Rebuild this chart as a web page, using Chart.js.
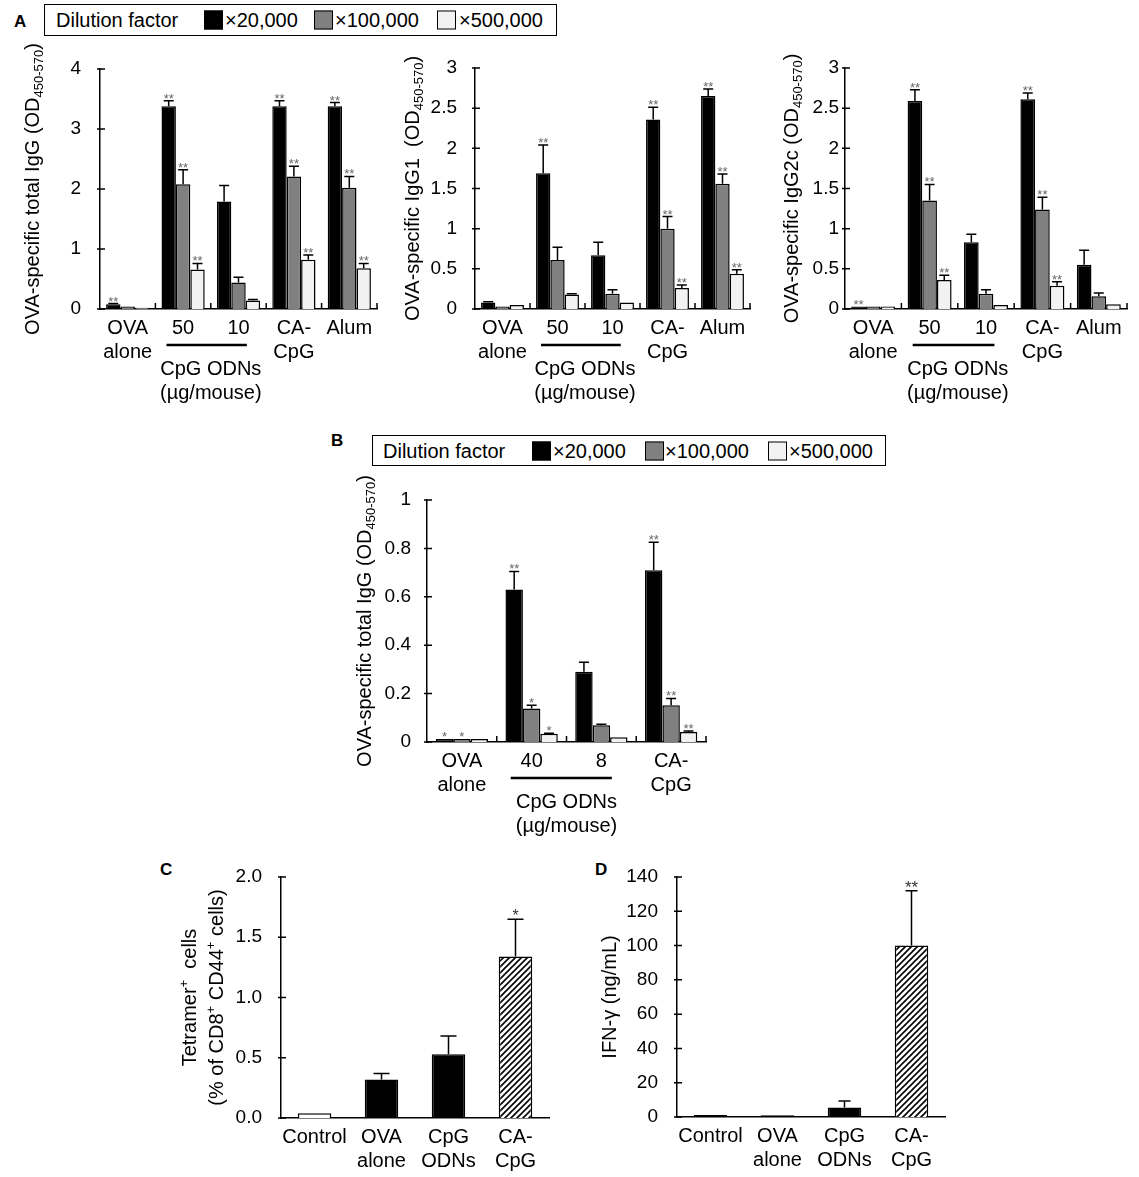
<!DOCTYPE html>
<html>
<head>
<meta charset="utf-8">
<script src="https://cdn.jsdelivr.net/npm/chart.js@4.4.0/dist/chart.umd.min.js"></script>
<style>
  body { margin: 0; background: #fff; width: 1139px; height: 1177px; position: relative; overflow: hidden;
         font-family: "Liberation Sans", Arial, sans-serif; color: #000; }
  canvas { position: absolute; }
  .lab { position: absolute; font-weight: bold; font-size: 17px; line-height: 17px; }
  .legend { position: absolute; border: 1.5px solid #000; box-sizing: border-box; background: #fff; }
  .legend span { position: absolute; top: 50%; transform: translateY(-50%); font-size: 20px; white-space: nowrap; }
  .legend i { position: absolute; top: 50%; transform: translateY(-50%); width: 19px; height: 19px;
              border: 1.5px solid #000; box-sizing: border-box; }
</style>
</head>
<body>
<div class="lab" style="left:14px;top:13px">A</div>
<div class="lab" style="left:331px;top:432px">B</div>
<div class="lab" style="left:160px;top:861px">C</div>
<div class="lab" style="left:595px;top:861px">D</div>
<script>
// ---- data ----
const seriesLabels = ['×20,000', '×100,000', '×500,000'];
const legendTitle = 'Dilution factor';
const groupLabel = ['CpG ODNs', '(µg/mouse)'];

const catsA = [['OVA', 'alone'], '50', '10', ['CA-', 'CpG'], 'Alum'];
const catsB = [['OVA', 'alone'], '40', '8', ['CA-', 'CpG']];
const catsCD = ['Control', ['OVA', 'alone'], ['CpG', 'ODNs'], ['CA-', 'CpG']];

// A, total IgG
const totalIgG20k = [0.08, 3.38, 1.79, 3.38, 3.38];
const totalIgG100k = [0.04, 2.08, 0.44, 2.21, 2.02];
const totalIgG500k = [0.02, 0.66, 0.14, 0.82, 0.68];
const totalIgG20kSd = [0.01, 0.09, 0.27, 0.09, 0.06];
const totalIgG100kSd = [0, 0.24, 0.09, 0.17, 0.19];
const totalIgG500kSd = [0, 0.10, 0.02, 0.08, 0.08];
const totalIgG20kSig = ['**', '**', '', '**', '**'];
const totalIgG100kSig = ['', '**', '', '**', '**'];
const totalIgG500kSig = ['', '**', '', '**', '**'];

// A, IgG1
const igg1_20k = [0.08, 1.69, 0.67, 2.36, 2.65];
const igg1_100k = [0.03, 0.61, 0.19, 1.00, 1.56];
const igg1_500k = [0.05, 0.18, 0.08, 0.26, 0.44];
const igg1_20kSd = [0.01, 0.35, 0.16, 0.15, 0.09];
const igg1_100kSd = [0, 0.16, 0.05, 0.15, 0.12];
const igg1_500kSd = [0, 0.01, 0, 0.04, 0.05];
const igg1_20kSig = ['', '**', '', '**', '**'];
const igg1_100kSig = ['', '', '', '**', '**'];
const igg1_500kSig = ['', '', '', '**', '**'];

// A, IgG2c
const igg2c_20k = [0.03, 2.59, 0.83, 2.61, 0.55];
const igg2c_100k = [0.03, 1.35, 0.19, 1.24, 0.16];
const igg2c_500k = [0.03, 0.36, 0.05, 0.29, 0.06];
const igg2c_20kSd = [0, 0.14, 0.10, 0.08, 0.18];
const igg2c_100kSd = [0, 0.20, 0.05, 0.15, 0.04];
const igg2c_500kSd = [0, 0.06, 0, 0.05, 0];
const igg2c_20kSig = ['**', '**', '', '**', ''];
const igg2c_100kSig = ['', '**', '', '**', ''];
const igg2c_500kSig = ['', '**', '', '**', ''];

// B, total IgG
const bIgG20k = [0.012, 0.63, 0.29, 0.71];
const bIgG100k = [0.012, 0.138, 0.069, 0.152];
const bIgG500k = [0.012, 0.034, 0.02, 0.041];
const bIgG20kSd = [0, 0.075, 0.04, 0.115];
const bIgG100kSd = [0, 0.014, 0.004, 0.028];
const bIgG500kSd = [0, 0.002, 0, 0.004];
const bIgG20kSig = ['*', '**', '', '**'];
const bIgG100kSig = ['*', '*', '', '**'];
const bIgG500kSig = ['', '*', '', '**'];

// C, tetramer+ cells
const tetramer = [0.04, 0.32, 0.53, 1.34];
const tetramerSd = [0, 0.05, 0.15, 0.31];
const tetramerSig = ['', '', '', '*'];

// D, IFN-gamma
const ifng = [1.2, 1.0, 5.6, 100];
const ifngSd = [0, 0, 3.7, 32];
const ifngSig = ['', '', '', '**'];

// ---- styling ----
const FONT = '"Liberation Sans", Arial, sans-serif';
const fills = ['#000000', '#808080', '#f2f2f2'];
Chart.defaults.font.family = FONT;
Chart.defaults.color = '#000';

function hatch() {
  const c = document.createElement('canvas');
  c.width = 6; c.height = 6;
  const g = c.getContext('2d');
  g.fillStyle = '#fff'; g.fillRect(0, 0, 6, 6);
  g.strokeStyle = '#000'; g.lineWidth = 1.6;
  g.beginPath();
  g.moveTo(-1, 7); g.lineTo(7, -1);
  g.moveTo(-4, 4); g.lineTo(4, -4);
  g.moveTo(2, 10); g.lineTo(10, 2);
  g.stroke();
  return g.createPattern(c, 'repeat');
}

function trio(vals, sds, sigs, cat) {
  return vals.map((v, i) => ({
    label: seriesLabels[i], data: v, sd: sds[i], sig: sigs[i],
    backgroundColor: fills[i], borderColor: '#000', borderWidth: 1.5,
    categoryPercentage: cat, barPercentage: 1
  }));
}

function drawRich(ctx, segs, cx, cy, size) {
  ctx.save();
  ctx.translate(cx, cy);
  ctx.rotate(-Math.PI / 2);
  ctx.textBaseline = 'middle';
  ctx.textAlign = 'left';
  const sz = s => (s.k ? size * 0.65 : size);
  let total = 0;
  segs.forEach(s => { ctx.font = sz(s) + 'px ' + FONT; total += ctx.measureText(s.t).width; });
  let x = -total / 2;
  segs.forEach(s => {
    ctx.font = sz(s) + 'px ' + FONT;
    const dy = s.k === 'sub' ? size * 0.3 : s.k === 'sup' ? -size * 0.3 : 0;
    ctx.fillText(s.t, x, dy);
    x += ctx.measureText(s.t).width;
  });
  ctx.restore();
}

function extras(p, canvasLeft) {
  return {
    id: 'extras',
    afterDatasetsDraw(chart) {
      const ctx = chart.ctx, xs = chart.scales.x, ys = chart.scales.y;
      ctx.save();
      ctx.strokeStyle = '#000';
      ctx.lineWidth = 1.5;
      chart.data.datasets.forEach((ds, di) => {
        chart.getDatasetMeta(di).data.forEach((bar, i) => {
          const top = ys.getPixelForValue(ds.data[i] + (ds.sd[i] || 0));
          if (ds.sd[i]) {
            ctx.beginPath();
            ctx.moveTo(bar.x, bar.y); ctx.lineTo(bar.x, top);
            ctx.moveTo(bar.x - p.cap / 2, top); ctx.lineTo(bar.x + p.cap / 2, top);
            ctx.stroke();
          }
          if (ds.sig[i]) {
            ctx.fillStyle = p.sigColor;
            ctx.font = p.sigSize + 'px ' + FONT;
            ctx.textAlign = 'center';
            ctx.textBaseline = 'alphabetic';
            ctx.fillText(ds.sig[i], bar.x, top + 2);
          }
        });
      });
      // inward ticks
      ctx.beginPath();
      ys.ticks.forEach(t => {
        const py = ys.getPixelForValue(t.value);
        ctx.moveTo(xs.left - 3, py); ctx.lineTo(xs.left + 5, py);
      });
      if (p.xTick) {
        const n = chart.data.labels.length, cw = (xs.right - xs.left) / n;
        for (let k = 1; k <= n; k++) {
          const px = xs.left + k * cw;
          ctx.moveTo(px, ys.bottom); ctx.lineTo(px, ys.bottom - 6);
        }
      }
      ctx.stroke();
      // CpG ODNs bracket
      if (p.bracket) {
        const n = chart.data.labels.length, cw = (xs.right - xs.left) / n;
        const xa = xs.getPixelForValue(p.bracket[0]), xb = xs.getPixelForValue(p.bracket[1]);
        ctx.lineWidth = 2.5;
        ctx.beginPath();
        ctx.moveTo(xa - 0.3 * cw, ys.bottom + 36); ctx.lineTo(xb + 0.15 * cw, ys.bottom + 36);
        ctx.stroke();
        ctx.fillStyle = '#000';
        ctx.font = '20px ' + FONT;
        ctx.textAlign = 'center';
        ctx.textBaseline = 'middle';
        ctx.fillText(groupLabel[0], (xa + xb) / 2, ys.bottom + 60);
        ctx.fillText(groupLabel[1], (xa + xb) / 2, ys.bottom + 84);
      }
      // axis titles
      ctx.fillStyle = '#000';
      p.titles.forEach(t => drawRich(ctx, t.segs, t.x - canvasLeft, (ys.top + ys.bottom) / 2, 20));
      ctx.restore();
    }
  };
}

function panel(p) {
  const padTop = 40, padRight = 12;
  const cv = document.createElement('canvas');
  const canvasLeft = p.left - p.yW;
  cv.width = p.yW + (p.right - p.left) + padRight;
  cv.height = padTop + (p.bottom - p.top) + p.xH;
  cv.style.left = canvasLeft + 'px';
  cv.style.top = (p.top - padTop) + 'px';
  document.body.appendChild(cv);
  new Chart(cv, {
    type: 'bar',
    data: { labels: p.labels, datasets: p.datasets },
    options: {
      responsive: false,
      animation: false,
      layout: { padding: { top: padTop, right: padRight, left: 0, bottom: 0 } },
      plugins: { legend: { display: false }, tooltip: { enabled: false } },
      scales: {
        x: {
          grid: { display: false, drawTicks: false },
          border: { color: '#000', width: 1.5 },
          ticks: { padding: 7, font: { size: 20 }, maxRotation: 0, autoSkip: false, color: '#000' },
          afterFit: s => { s.height = p.xH; }
        },
        y: {
          min: 0, max: p.max,
          grid: { display: false, drawTicks: false },
          border: { color: '#000', width: 1.5 },
          ticks: { stepSize: p.step, padding: p.tickPad, font: { size: 19 }, color: '#000', callback: p.fmt },
          afterFit: s => { s.width = p.yW; }
        }
      }
    },
    plugins: [extras(p, canvasLeft)]
  });
}

function odTitle(name) {
  return [{ t: name + ' (OD' }, { t: '450-570', k: 'sub' }, { t: ')' }];
}

function legend(left, top, width, height, titleX, sqX, txX) {
  const box = document.createElement('div');
  box.className = 'legend';
  Object.assign(box.style, { left: left + 'px', top: top + 'px', width: width + 'px', height: height + 'px' });
  const t = document.createElement('span');
  t.textContent = legendTitle; t.style.left = titleX + 'px';
  box.appendChild(t);
  seriesLabels.forEach((lab, i) => {
    const sq = document.createElement('i');
    sq.style.left = sqX[i] + 'px'; sq.style.background = fills[i];
    box.appendChild(sq);
    const s = document.createElement('span');
    s.textContent = lab; s.style.left = txX[i] + 'px';
    box.appendChild(s);
  });
  document.body.appendChild(box);
}

legend(44, 4, 513, 32, 11, [159, 269, 392], [180, 290, 414]);
legend(372, 435, 514, 31, 10, [159, 272, 395], [180, 292, 416]);

const sigA = { cap: 10, sigColor: '#666', sigSize: 13, xTick: true, bracket: [1, 2] };

panel(Object.assign({}, sigA, {
  left: 100, top: 69, bottom: 309, right: 377, yW: 100, xH: 100, max: 4, step: 1, tickPad: 19,
  labels: catsA,
  datasets: trio([totalIgG20k, totalIgG100k, totalIgG500k], [totalIgG20kSd, totalIgG100kSd, totalIgG500kSd],
                 [totalIgG20kSig, totalIgG100kSig, totalIgG500kSig], 0.78),
  titles: [{ segs: odTitle('OVA-specific total IgG'), x: 33 }]
}));

panel(Object.assign({}, sigA, {
  left: 475, top: 68, bottom: 309, right: 750, yW: 95, xH: 100, max: 3, step: 0.5, tickPad: 18,
  labels: catsA,
  datasets: trio([igg1_20k, igg1_100k, igg1_500k], [igg1_20kSd, igg1_100kSd, igg1_500kSd],
                 [igg1_20kSig, igg1_100kSig, igg1_500kSig], 0.78),
  titles: [{ segs: odTitle('OVA-specific IgG1 '), x: 413 }]
}));

panel(Object.assign({}, sigA, {
  left: 845, top: 68, bottom: 309, right: 1127, yW: 95, xH: 100, max: 3, step: 0.5, tickPad: 6,
  labels: catsA,
  datasets: trio([igg2c_20k, igg2c_100k, igg2c_500k], [igg2c_20kSd, igg2c_100kSd, igg2c_500kSd],
                 [igg2c_20kSig, igg2c_100kSig, igg2c_500kSig], 0.78),
  titles: [{ segs: odTitle('OVA-specific IgG2c'), x: 792 }]
}));

panel(Object.assign({}, sigA, {
  left: 427, top: 500, bottom: 742, right: 706, yW: 90, xH: 100, max: 1, step: 0.2, tickPad: 16,
  labels: catsB,
  datasets: trio([bIgG20k, bIgG100k, bIgG500k], [bIgG20kSd, bIgG100kSd, bIgG500kSd],
                 [bIgG20kSig, bIgG100kSig, bIgG500kSig], 0.75),
  titles: [{ segs: odTitle('OVA-specific total IgG'), x: 365 }]
}));

const pattern = hatch();
function single(vals, sd, sig, colors) {
  return [{ data: vals, sd: sd, sig: sig, backgroundColor: colors, borderColor: '#000', borderWidth: 1.5,
            categoryPercentage: 0.5, barPercentage: 1 }];
}

panel({
  left: 281, top: 877, bottom: 1118, right: 549, yW: 125, xH: 65, max: 2, step: 0.5, tickPad: 19,
  fmt: v => v.toFixed(1), cap: 16, sigColor: '#333', sigSize: 16, xTick: false,
  labels: catsCD,
  datasets: single(tetramer, tetramerSd, tetramerSig, ['#ffffff', '#000000', '#000000', pattern]),
  titles: [
    { segs: [{ t: 'Tetramer' }, { t: '+', k: 'sup' }, { t: '  cells' }], x: 190 },
    { segs: [{ t: '(% of CD8' }, { t: '+', k: 'sup' }, { t: ' CD44' }, { t: '+', k: 'sup' }, { t: ' cells)' }], x: 217 }
  ]
});

panel({
  left: 677, top: 877, bottom: 1117, right: 945, yW: 100, xH: 65, max: 140, step: 20, tickPad: 19,
  cap: 12, sigColor: '#333', sigSize: 17, xTick: false,
  labels: catsCD,
  datasets: single(ifng, ifngSd, ifngSig, ['#000000', '#000000', '#000000', pattern]),
  titles: [{ segs: [{ t: 'IFN-γ (ng/mL)' }], x: 610 }]
});
</script>
</body>
</html>
